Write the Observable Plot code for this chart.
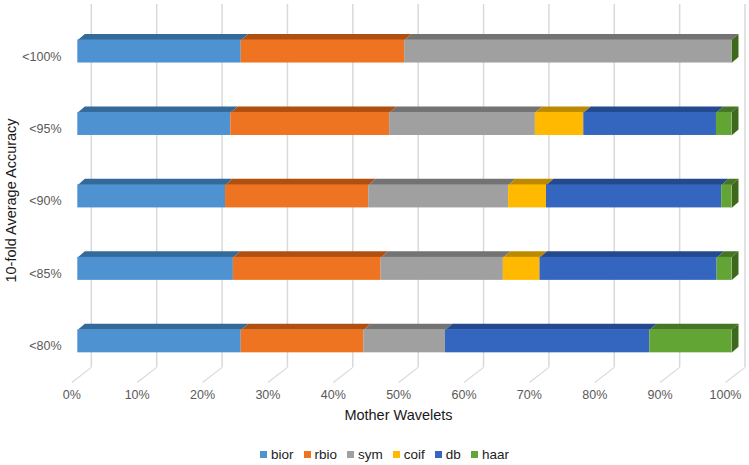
<!DOCTYPE html>
<html><head><meta charset="utf-8">
<script src="https://cdn.jsdelivr.net/npm/d3@7"></script>
<script src="https://cdn.jsdelivr.net/npm/@observablehq/plot@0.6"></script>
<style>
html,body{margin:0;padding:0;background:#fff;font-family:"Liberation Sans",Arial,sans-serif}
svg{display:block}
#legend{position:absolute;left:15px;top:444px;width:749px}
#legend span{margin-right:10px!important}
#legend svg{margin-right:4px!important}
</style></head><body><div id="chart"></div><div id="legend"></div>
<script>
const rows = ["<100%","<95%","<90%","<85%","<80%"];
const series = ["bior","rbio","sym","coif","db","haar"];
const bior = [25,23.4,22.6,23.8,25];
const rbio = [25,24.3,21.9,22.6,18.75];
const sym  = [50,22.3,21.4,18.7,12.5];
const coif = [0,7.4,5.8,5.6,0];
const db   = [0,20.3,26.8,27.1,31.25];
const haar = [0,2.3,1.5,2.2,12.5];
const valuesBySeries = [bior,rbio,sym,coif,db,haar];
const colors = ["#4e92d2","#ee7421","#a0a0a0","#ffb900","#3566bf","#62a535"];
const topColors = ["#346a99","#b04f12","#737373","#bc8a00","#24498e","#467526"];
const sideColor = "#3d6a1a";
const ticks = [0,10,20,30,40,50,60,70,80,90,100];

// depth offsets in data units
const depthX = 1.07, depthY = 0.083, half = 0.159;
const wallX = 2.07, wallTop = -0.65, wallFloor = 4.36, frontX = -0.92, frontFloor = 4.57;

const segs = [];
rows.forEach((r,ri)=>{
  let c = 0;
  series.forEach((s,si)=>{
    const v = valuesBySeries[si][ri];
    segs.push({row:ri,series:s,si,x1:c,x2:c+v,y1:ri-half,y2:ri+half});
    c += v;
  });
});
const poly = (id,pts)=>pts.map(([x,y])=>({id,x,y}));
const topMarks = series.map((s,si)=>{
  const pts = segs.filter(d=>d.si===si && d.x2>d.x1).flatMap(d=>poly(d.row,[
    [d.x1,d.y1],[d.x1+depthX,d.y1-depthY],[d.x2+depthX,d.y1-depthY],[d.x2,d.y1]]));
  return Plot.line(pts,{x:"x",y:"y",z:"id",fill:topColors[si],stroke:"none"});
});
const sides = rows.flatMap((r,ri)=>poly(ri,[
  [100,ri-half],[100+depthX,ri-half-depthY],[100+depthX,ri+half-depthY],[100,ri+half]]));

const chart = Plot.plot({
  width:749,height:440,marginLeft:77,marginRight:18,marginTop:0,marginBottom:70,
  style:{fontFamily:'"Liberation Sans",Arial,sans-serif',background:"#fff",overflow:"visible"},
  x:{domain:[0,100],range:[77.3,731],axis:null},
  y:{domain:[0,4],range:[51,340.8],axis:null},
  color:{domain:series,range:colors},
  marks:[
    Plot.ruleX(ticks,{x:d=>d+wallX,y1:wallTop,y2:wallFloor,stroke:"#d9d9d9",strokeWidth:1.5}),
    Plot.link(ticks,{x1:d=>d+wallX,y1:wallFloor,x2:d=>d+frontX,y2:frontFloor,stroke:"#d9d9d9",strokeWidth:1.2}),
    ...topMarks,
    Plot.line(sides,{x:"x",y:"y",z:"id",fill:sideColor,stroke:"none"}),
    Plot.rect(segs,{x1:"x1",x2:"x2",y1:"y1",y2:"y2",fill:"series"}),
    Plot.axisX({anchor:"bottom",ticks,tickSize:0,tickPadding:20,dx:-6,label:null,
      tickFormat:d=>d+"%",fontSize:12.5,color:"#595959"}),
    Plot.axisY({anchor:"left",ticks:[0,1,2,3,4],tickSize:0,tickPadding:16,dy:5,label:null,
      tickFormat:i=>rows[i],fontSize:12.5,color:"#595959"}),
    Plot.text(["Mother Wavelets"],{frameAnchor:"bottom",dx:-6,dy:49,fontSize:14.5,fill:"#1a1a1a"}),
    Plot.text(["10-fold Average Accuracy"],{frameAnchor:"left",textAnchor:"middle",rotate:-90,dx:-66,dy:15,fontSize:14.5,fill:"#1a1a1a"})
  ]
});
document.getElementById("chart").append(chart);
const legend = chart.legend("color",{swatchSize:7,
  style:{fontFamily:'"Liberation Sans",Arial,sans-serif',fontSize:"13.5px",color:"#222",
  justifyContent:"center",minHeight:"20px",marginLeft:"0"}});
document.getElementById("legend").append(legend);
</script></body></html>
